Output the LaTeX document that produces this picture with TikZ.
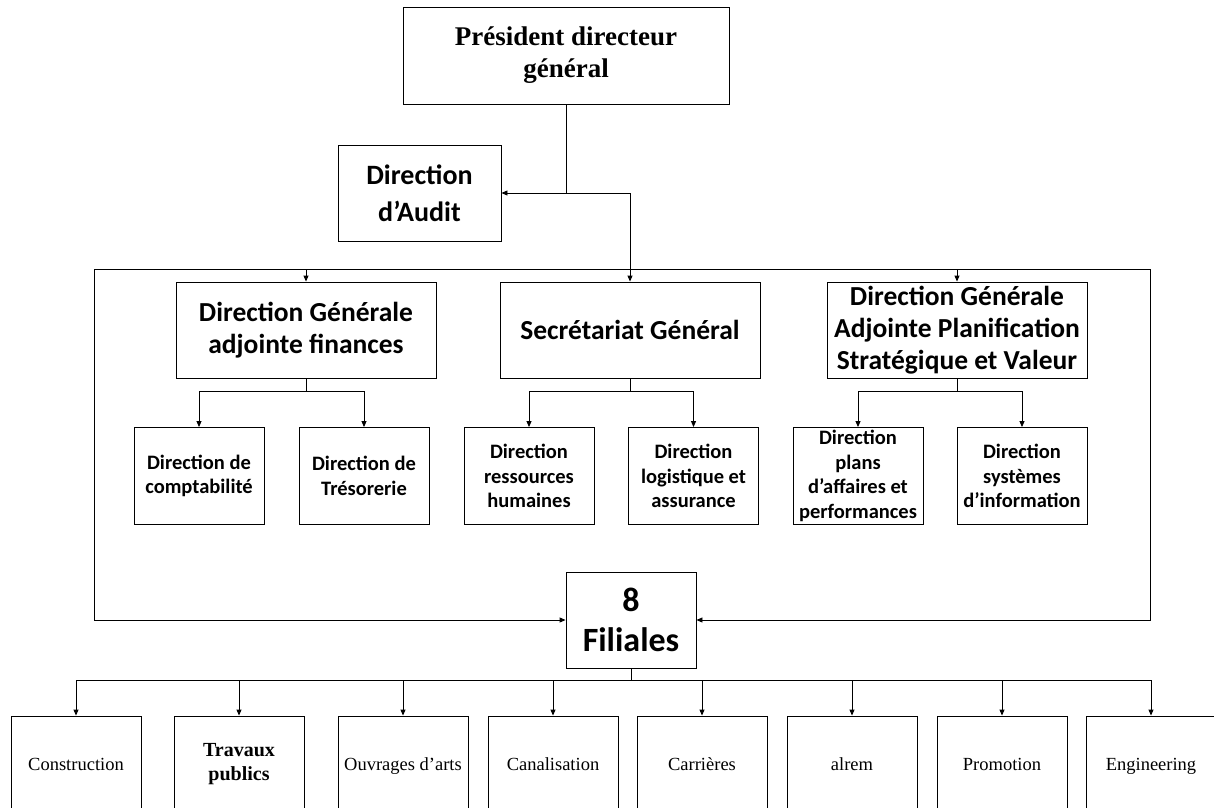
\documentclass[tikz,border=0pt]{standalone}
\usepackage{fontspec}
\setmainfont{Liberation Serif}
\newfontfamily\calfont{Carlito}
\usetikzlibrary{arrows.meta}

\tikzset{
  box/.style={draw, line width=0.9pt, align=center, inner sep=0pt, anchor=center},
  headbox/.style={box, minimum width=260pt, minimum height=96pt,
    font=\calfont\bfseries\fontsize{27.5}{32}\selectfont},
  subbox/.style={box, minimum width=130pt, minimum height=97pt,
    font=\calfont\bfseries\fontsize{20.5}{24.5}\selectfont},
  filbox/.style={box, minimum width=130pt, minimum height=100pt,
    font=\fontsize{18.5}{24}\selectfont, execute at begin node=\strut},
  link/.style={line width=0.9pt},
  arr/.style={link, -{Triangle[length=6pt,width=5pt]}}
}

\begin{document}
\begin{tikzpicture}[x=1pt,y=-1pt]
\useasboundingbox (0,0) rectangle (1214,807);
\clip (0,0) rectangle (1214,807);

% top management
\node[box, minimum width=326pt, minimum height=97pt,
  font=\bfseries\fontsize{27}{32}\selectfont] (pdg) at (566,55.5)
  {Président directeur\\général};
\node[box, minimum width=163pt, minimum height=96pt,
  font=\calfont\bfseries\fontsize{28}{37}\selectfont] (audit) at (419.5,193)
  {Direction\\d’Audit};

% general directorates
\node[headbox] (dgaf) at (306,330) {Direction Générale\\adjointe finances};
\node[headbox] (sg)   at (630,330) {Secrétariat Général};
\node[headbox] (dgap) at (957,330) {Direction Générale\\Adjointe Planification\\Stratégique et Valeur};

% directorates
\node[subbox] (compta) at (199,476)  {Direction de\\comptabilité};
\node[subbox] (treso)  at (364,476)  {Direction de\\Trésorerie};
\node[subbox] (rh)     at (529,476)  {Direction\\ressources\\humaines};
\node[subbox] (logi)   at (693.5,476){Direction\\logistique et\\assurance};
\node[subbox] (plans)  at (858,476)  {Direction\\plans\\d’affaires et\\performances};
\node[subbox] (si)     at (1022,476) {Direction\\systèmes\\d’information};

% subsidiaries
\node[box, minimum width=130pt, minimum height=96pt,
  font=\calfont\bfseries\fontsize{34}{40}\selectfont] (fil) at (631,620)
  {8\\Filiales};

\node[filbox] (f1) at (76,766)   {Construction};
\node[filbox, font=\bfseries\fontsize{20}{24}\selectfont] (f2) at (239,766) {Travaux\\publics};
\node[filbox] (f3) at (403,766)  {Ouvrages d’arts};
\node[filbox] (f4) at (553,766)  {Canalisation};
\node[filbox] (f5) at (702,766)  {Carrières};
\node[filbox] (f6) at (852,766)  {alrem};
\node[filbox] (f7) at (1002,766) {Promotion};
\node[filbox] (f8) at (1151,766) {Engineering};

% links from the president
\coordinate (j1) at (566,193);
\draw[link] (pdg.south) -- (j1);
\draw[arr] (j1) -- (audit.east);
\draw[arr] (j1) -| (sg.north);

% frame joining the directorates to the subsidiaries
\coordinate (fl) at (94,269);
\coordinate (fr) at (1150,269);
\draw[link] (fl) -- (fr);
\draw[arr] (fl) |- (fil.west);
\draw[arr] (fr) |- (fil.east);
\draw[arr] (dgaf.north |- fl) -- (dgaf.north);
\draw[arr] (dgap.north |- fl) -- (dgap.north);

% branches to the directorates
\draw[arr] (dgaf.south) -- ++(0,13) -| (compta.north);
\draw[arr] (dgaf.south) -- ++(0,13) -| (treso.north);
\draw[arr] (sg.south) -- ++(0,13) -| (rh.north);
\draw[arr] (sg.south) -- ++(0,13) -| (logi.north);
\draw[arr] (dgap.south) -- ++(0,13) -| (plans.north);
\draw[arr] (dgap.south) -- ++(0,13) -| (si.north);

% branches to the subsidiaries
\foreach \f in {f1,f2,f3,f4,f5,f6,f7,f8}
  \draw[arr] (fil.south) -- ++(0,12) -| (\f.north);
\end{tikzpicture}
\end{document}
